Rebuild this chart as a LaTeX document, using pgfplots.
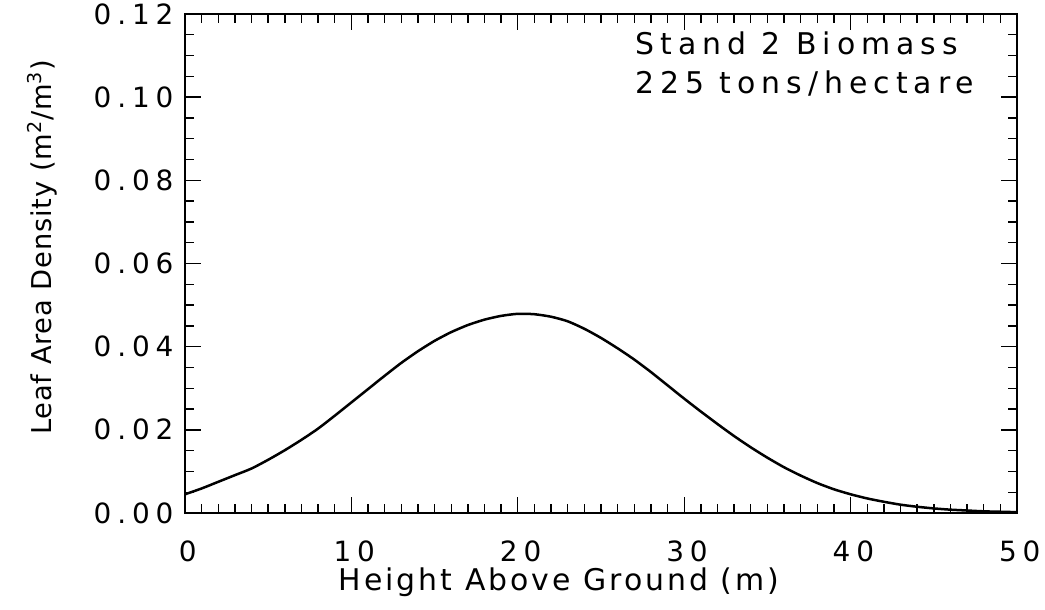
\documentclass[border=0pt]{standalone}
\usepackage{fontspec}
\setmainfont[LetterSpace=10]{DejaVu Sans}
\newfontfamily\tickfont[LetterSpace=21]{DejaVu Sans}
\newfontfamily\ylabfont[LetterSpace=3]{DejaVu Sans}
\newfontfamily\notefont[LetterSpace=20]{DejaVu Sans}
\usepackage{pgfplots}
\pgfplotsset{compat=1.18}
\pgfplotstableread{
h v
0 0.0045
1 0.0059
2 0.0075
3 0.0091
4 0.0107
5 0.0128
6 0.0151
7 0.0176
8 0.0203
9 0.0234
10 0.0266
11 0.0298
12 0.0330
13 0.0361
14 0.0389
15 0.0414
16 0.0435
17 0.0452
18 0.0465
19 0.0474
20 0.0479
21 0.0478
22 0.0472
23 0.0461
24 0.0443
25 0.0421
26 0.0396
27 0.0369
28 0.0339
29 0.0307
30 0.0275
31 0.0244
32 0.0214
33 0.0185
34 0.0158
35 0.0133
36 0.0110
37 0.0090
38 0.0072
39 0.0057
40 0.0045
41 0.0035
42 0.0027
43 0.0020
44 0.0015
45 0.0011
46 0.0008
47 0.0006
48 0.0004
49 0.0003
50 0.0002
}\lad
\begin{document}
\begin{tikzpicture}
\begin{axis}[name=ax, scale only axis, width=416bp, height=249.5bp,
  xmin=0, xmax=50, ymin=0, ymax=0.12,
  xtick={0,10,20,30,40,50},
  ytick={0,0.02,0.04,0.06,0.08,0.10,0.12},
  minor x tick num=9, minor y tick num=3,
  tick align=inside,
  axis line style={line width=0.75bp, black},
  every tick/.style={black, line width=0.7bp},
  major tick length=8bp, minor tick length=4.5bp,
  clip=false,
  /pgf/number format/assume math mode=true,
  ticklabel style={font=\tickfont\fontsize{14}{16}\selectfont},
  yticklabel style={/pgf/number format/fixed, /pgf/number format/fixed zerofill, /pgf/number format/precision=2, inner sep=0pt, anchor=east, xshift=-5.6bp},
  xticklabel style={inner sep=0pt, anchor=north, yshift=-13.5bp, xshift=1.4bp},
  xlabel={Height Above Ground (m)},
  xlabel style={font=\fontsize{15}{17}\selectfont, at={(axis description cs:0.4495,0)}, anchor=north, inner sep=0pt, yshift=-27bp},
  ylabel={Leaf Area Density (m\textsuperscript{2}/m\textsuperscript{3})},
  ylabel style={font=\ylabfont\fontsize{13.7}{16}\selectfont, at={(axis description cs:-0.160,0.532)}, anchor=base, inner sep=0pt},
]
\addplot[black, line width=1.25bp, smooth, tension=0.4] table[x=h, y=v] {\lad};
\node[anchor=base west, inner sep=0pt, font=\notefont\fontsize{15}{17}\selectfont] at (rel axis cs:0.541,0.918) {Stand 2 Biomass};
\node[anchor=base west, inner sep=0pt, font=\notefont\fontsize{15}{17}\selectfont] at (rel axis cs:0.541,0.8397) {225 tons/hectare};
\end{axis}
\path ([shift={(-92.5bp,-48.5bp)}]ax.south west) rectangle ([shift={(14bp,7bp)}]ax.north east);
\end{tikzpicture}
\end{document}
